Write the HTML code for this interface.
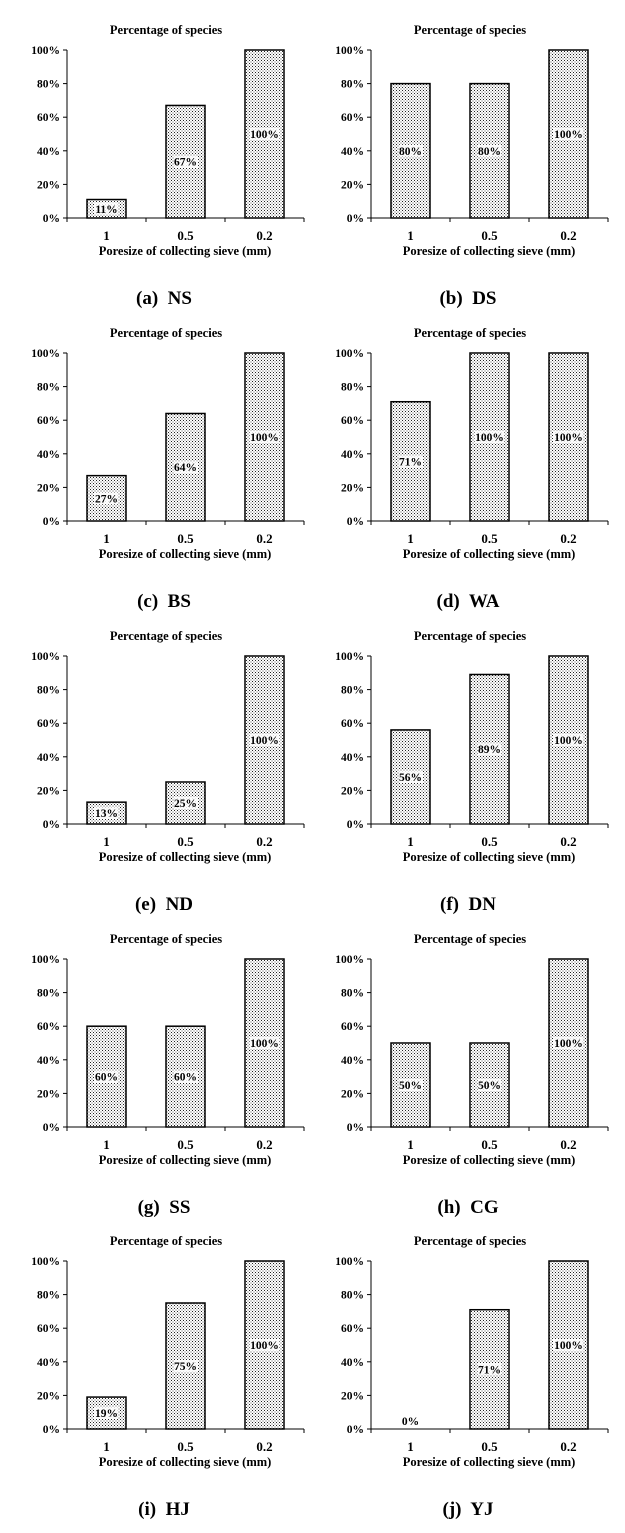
<!DOCTYPE html>
<html><head><meta charset="utf-8"><style>
html,body{margin:0;padding:0;background:#fff;}
svg{display:block;font-family:"Liberation Serif",serif;font-weight:bold;}
</style></head><body>
<svg id="s" width="625" height="1533" xmlns="http://www.w3.org/2000/svg">
<defs>
<pattern id="dots" width="3" height="3" patternUnits="userSpaceOnUse">
<rect width="3" height="3" fill="#fff"/>
<rect x="0" y="0" width="1" height="1" fill="#222"/>
<rect x="1.5" y="1.5" width="1" height="1" fill="#555"/>
</pattern>
</defs>
</svg>
<script>
const data=[
["(a)  NS",[11,67,100]],["(b)  DS",[80,80,100]],
["(c)  BS",[27,64,100]],["(d)  WA",[71,100,100]],
["(e)  ND",[13,25,100]],["(f)  DN",[56,89,100]],
["(g)  SS",[60,60,100]],["(h)  CG",[50,50,100]],
["(i)  HJ",[19,75,100]],["(j)  YJ",[0,71,100]]];
let h="";
data.forEach((d,i)=>{
 const col=i%2,row=Math.floor(i/2);
 const ox=col?304:0, oy=row*303+(row==4?-1:0);
 const ax=67+ox, y0=218+oy, y1=50+oy, H=y0-y1;
 h+=`<text x="${166+ox}" y="${34+oy}" font-size="12.5" text-anchor="middle">Percentage of species</text>`;
 for(let k=0;k<=5;k++){const y=y0-H*k/5;
  h+=`<line x1="${ax-4}" x2="${ax}" y1="${y}" y2="${y}" stroke="#000"/>`;
  h+=`<text x="${ax-7}" y="${y+4}" font-size="11.5" text-anchor="end">${k*20}%</text>`;}
 h+=`<line x1="${ax}" x2="${ax}" y1="${y1}" y2="${y0}" stroke="#000"/>`;
 h+=`<line x1="${ax}" x2="${ax+237}" y1="${y0}" y2="${y0}" stroke="#000"/>`;
 for(let k=0;k<4;k++){const x=ax+79*k;h+=`<line x1="${x}" x2="${x}" y1="${y0}" y2="${y0+4}" stroke="#000"/>`;}
 const cats=["1","0.5","0.2"];
 d[1].forEach((v,k)=>{
  const cx=ax+39.5+79*k, bh=H*v/100, by=y0-bh;
  if(v>0)h+=`<rect x="${cx-19.5}" y="${by}" width="39" height="${bh}" fill="url(#dots)" stroke="#000" stroke-width="1.5"/>`;
  const ly=v>0?y0-bh/2:y0-8; const w=v==100?30:24;
  h+=`<rect x="${cx-w/2}" y="${ly-6}" width="${w}" height="12" fill="#fff" opacity="${v>0?0.85:1}"/>`;
  h+=`<text x="${cx}" y="${ly+4}" font-size="11.5" text-anchor="middle">${v}%</text>`;
  h+=`<text x="${cx}" y="${y0+22}" font-size="13" text-anchor="middle">${cats[k]}</text>`;
 });
 h+=`<text x="${ax+118}" y="${y0+37}" font-size="12.5" text-anchor="middle">Poresize of collecting sieve (mm)</text>`;
 h+=`<text x="${ax+97}" y="${y0+86}" font-size="19" text-anchor="middle" xml:space="preserve">${d[0]}</text>`;
});
document.getElementById("s").insertAdjacentHTML("beforeend",h);
</script>
</body></html>
